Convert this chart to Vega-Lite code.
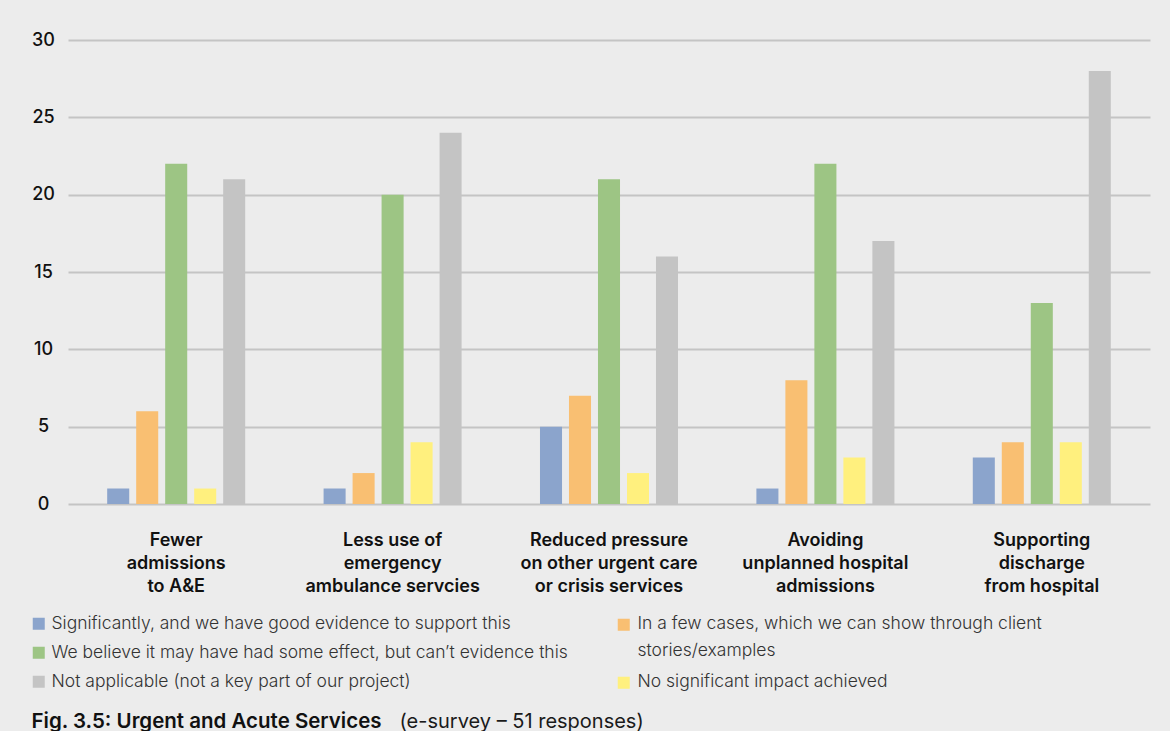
{
  "$schema": "https://vega.github.io/schema/vega-lite/v6.json",
  "width": 1082,
  "height": 464,
  "autosize": {"type": "none"},
  "padding": {"left": 68, "top": 40, "right": 20, "bottom": 227},
  "background": "#ececec",
  "config": {"view": {"stroke": null}, "font": "Inter"},
  "data": {
    "values": [
      {"category": "Fewer|admissions|to A&E", "series": "Significantly, and we have good evidence to support this", "value": 1},
      {"category": "Fewer|admissions|to A&E", "series": "In a few cases, which we can show through client stories/examples", "value": 6},
      {"category": "Fewer|admissions|to A&E", "series": "We believe it may have had some effect, but can’t evidence this", "value": 22},
      {"category": "Fewer|admissions|to A&E", "series": "No significant impact achieved", "value": 1},
      {"category": "Fewer|admissions|to A&E", "series": "Not applicable (not a key part of our project)", "value": 21},
      {"category": "Less use of|emergency|ambulance servcies", "series": "Significantly, and we have good evidence to support this", "value": 1},
      {"category": "Less use of|emergency|ambulance servcies", "series": "In a few cases, which we can show through client stories/examples", "value": 2},
      {"category": "Less use of|emergency|ambulance servcies", "series": "We believe it may have had some effect, but can’t evidence this", "value": 20},
      {"category": "Less use of|emergency|ambulance servcies", "series": "No significant impact achieved", "value": 4},
      {"category": "Less use of|emergency|ambulance servcies", "series": "Not applicable (not a key part of our project)", "value": 24},
      {"category": "Reduced pressure|on other urgent care|or crisis services", "series": "Significantly, and we have good evidence to support this", "value": 5},
      {"category": "Reduced pressure|on other urgent care|or crisis services", "series": "In a few cases, which we can show through client stories/examples", "value": 7},
      {"category": "Reduced pressure|on other urgent care|or crisis services", "series": "We believe it may have had some effect, but can’t evidence this", "value": 21},
      {"category": "Reduced pressure|on other urgent care|or crisis services", "series": "No significant impact achieved", "value": 2},
      {"category": "Reduced pressure|on other urgent care|or crisis services", "series": "Not applicable (not a key part of our project)", "value": 16},
      {"category": "Avoiding|unplanned hospital|admissions", "series": "Significantly, and we have good evidence to support this", "value": 1},
      {"category": "Avoiding|unplanned hospital|admissions", "series": "In a few cases, which we can show through client stories/examples", "value": 8},
      {"category": "Avoiding|unplanned hospital|admissions", "series": "We believe it may have had some effect, but can’t evidence this", "value": 22},
      {"category": "Avoiding|unplanned hospital|admissions", "series": "No significant impact achieved", "value": 3},
      {"category": "Avoiding|unplanned hospital|admissions", "series": "Not applicable (not a key part of our project)", "value": 17},
      {"category": "Supporting|discharge|from hospital", "series": "Significantly, and we have good evidence to support this", "value": 3},
      {"category": "Supporting|discharge|from hospital", "series": "In a few cases, which we can show through client stories/examples", "value": 4},
      {"category": "Supporting|discharge|from hospital", "series": "We believe it may have had some effect, but can’t evidence this", "value": 13},
      {"category": "Supporting|discharge|from hospital", "series": "No significant impact achieved", "value": 4},
      {"category": "Supporting|discharge|from hospital", "series": "Not applicable (not a key part of our project)", "value": 28}
    ]
  },
  "encoding": {
    "x": {
      "field": "category",
      "type": "nominal",
      "sort": ["Fewer|admissions|to A&E", "Less use of|emergency|ambulance servcies", "Reduced pressure|on other urgent care|or crisis services", "Avoiding|unplanned hospital|admissions", "Supporting|discharge|from hospital"],
      "scale": {"paddingInner": 0.33, "paddingOuter": 0.165},
      "axis": {
        "title": "Fig. 3.5: Urgent and Acute Services",
        "titleX": -37,
        "titleY": 223,
        "titleAlign": "left",
        "titleAnchor": "start",
        "titleBaseline": "alphabetic",
        "titleFontSize": 20.5,
        "titleFontWeight": 600,
        "titleColor": "#111111",
        "labelExpr": "split(datum.label, '|')",
        "labelAngle": 0,
        "labelFontSize": 18,
        "labelFontWeight": 600,
        "labelColor": "#111111",
        "labelLineHeight": 23,
        "labelPadding": 27,
        "labelLimit": 300,
        "domain": false,
        "ticks": false,
        "grid": false
      }
    },
    "xOffset": {
      "field": "series",
      "type": "nominal",
      "scale": {
        "domain": ["Significantly, and we have good evidence to support this", "In a few cases, which we can show through client stories/examples", "We believe it may have had some effect, but can’t evidence this", "No significant impact achieved", "Not applicable (not a key part of our project)"],
        "paddingInner": 0.24,
        "paddingOuter": 0.12
      }
    },
    "y": {
      "field": "value",
      "type": "quantitative",
      "scale": {"domain": [0, 30]},
      "axis": {
        "title": "(e-survey – 51 responses)",
        "titleAngle": 0,
        "titleX": 331,
        "titleY": 687,
        "titleAlign": "left",
        "titleAnchor": "start",
        "titleBaseline": "alphabetic",
        "titleFontSize": 20,
        "titleFontWeight": 400,
        "titleColor": "#1a1a1a",
        "values": [0, 5, 10, 15, 20, 25, 30],
        "grid": true,
        "gridColor": "#c4c4c4",
        "gridWidth": 2,
        "domain": false,
        "ticks": false,
        "labelAlign": "center",
        "labelPadding": 25,
        "labelFontSize": 18,
        "labelFontWeight": 500,
        "labelColor": "#111111"
      }
    }
  },
  "layer": [
    {
      "transform": [{"filter": {"field": "series", "oneOf": ["Significantly, and we have good evidence to support this", "We believe it may have had some effect, but can’t evidence this", "Not applicable (not a key part of our project)"]}}],
      "mark": {"type": "bar"},
      "encoding": {
        "color": {
          "field": "series",
          "type": "nominal",
          "scale": {
            "domain": ["Significantly, and we have good evidence to support this", "We believe it may have had some effect, but can’t evidence this", "Not applicable (not a key part of our project)"],
            "range": ["#8ba4cc", "#9dc584", "#c4c4c4"]
          },
          "legend": {
            "orient": "none",
            "legendX": -38,
            "legendY": 575,
            "direction": "vertical",
            "title": null,
            "padding": 0,
            "symbolType": "square",
            "symbolSize": 144,
            "symbolStrokeWidth": 0,
            "symbolOpacity": 1,
            "labelFontSize": 17.5,
            "labelFontWeight": 300,
            "labelColor": "#333333",
            "labelOffset": 4,
            "labelLimit": 700,
            "rowPadding": 10
          }
        }
      }
    },
    {
      "transform": [{"filter": {"field": "series", "oneOf": ["In a few cases, which we can show through client stories/examples", "No significant impact achieved"]}}],
      "mark": {"type": "bar"},
      "encoding": {
        "color": {
          "field": "series",
          "type": "nominal",
          "scale": {
            "domain": ["In a few cases, which we can show through client stories/examples", "No significant impact achieved"],
            "range": ["#f9bf72", "#fff07e"]
          },
          "legend": {
            "orient": "none",
            "legendX": 547,
            "legendY": 576,
            "direction": "vertical",
            "title": null,
            "padding": 0,
            "symbolType": "square",
            "symbolSize": 144,
            "symbolStrokeWidth": 0,
            "symbolOpacity": 1,
            "labelFontSize": 17.5,
            "labelFontWeight": 300,
            "labelColor": "#333333",
            "labelOffset": 5,
            "labelLimit": 700,
            "labelBaseline": "top",
            "rowPadding": 12,
            "labelExpr": "datum.label == 'In a few cases, which we can show through client stories/examples' ? ['In a few cases, which we can show through client', 'stories/examples'] : datum.label",
            "encode": {
              "labels": {"update": {"dy": {"value": -10}, "lineHeight": {"value": 27}}}
            }
          }
        }
      }
    }
  ],
  "resolve": {"scale": {"color": "independent"}}
}
